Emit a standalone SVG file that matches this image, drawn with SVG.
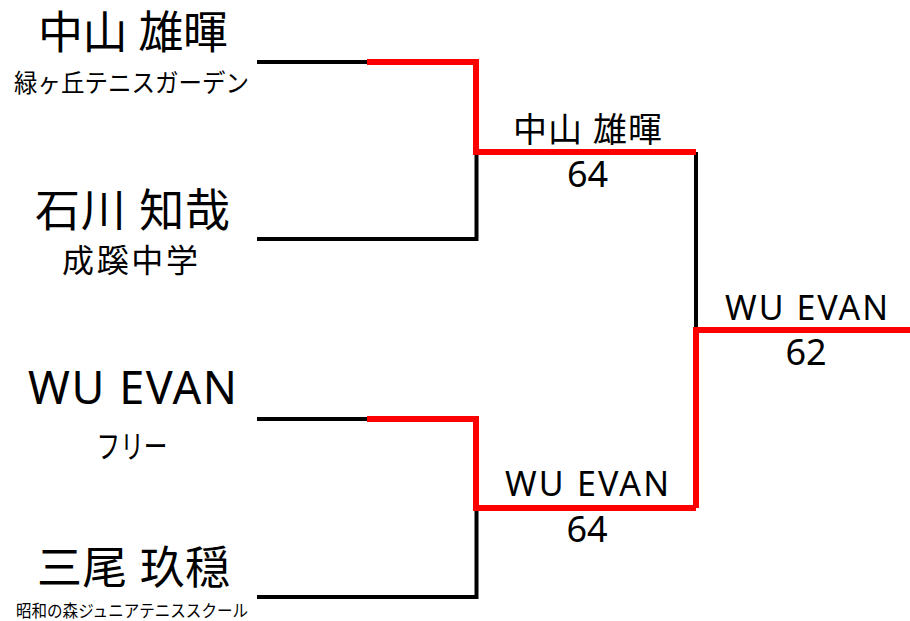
<svg xmlns="http://www.w3.org/2000/svg" width="910" height="621" viewBox="0 0 910 621">
  <style>
    text { font-family: "Noto Sans", "Noto Sans CJK JP", sans-serif; fill: #000; text-anchor: middle; }
    .name { font-size: 45px; }
    .aff { font-size: 25px; }
    .res { font-size: 34px; }
    .score { font-size: 36px; }
    .blk { fill: none; stroke: #000; stroke-width: 4; stroke-linejoin: miter; }
    .red { fill: none; stroke: #ff0000; stroke-width: 6; stroke-linejoin: miter; }
  </style>
  <rect width="910" height="621" fill="#fff"/>
  <g id="connectors">
    <path class="blk" d="M257,62 H370"/>
    <path class="blk" d="M257,239 H476.5 V152"/>
    <path class="blk" d="M696,152 V330"/>
    <path class="blk" d="M257,419 H370"/>
    <path class="blk" d="M257,597 H476.5 V508"/>
    <path class="red" d="M367,62 H476 V152 H696"/>
    <path class="red" d="M367,419 H476 V508 H696"/>
    <path class="red" d="M696,508 V330 H910"/>
  </g>
  <g id="player1">
    <text class="name" x="133" y="49" textLength="190" lengthAdjust="spacing">中山 雄暉</text>
    <text class="aff" x="131.5" y="92" textLength="235" lengthAdjust="spacingAndGlyphs">緑ヶ丘テニスガーデン</text>
  </g>
  <g id="player2">
    <text class="name" x="132.5" y="227" textLength="195" lengthAdjust="spacing">石川 知哉</text>
    <text class="aff" style="font-size:32px" x="130" y="272" textLength="136" lengthAdjust="spacing">成蹊中学</text>
  </g>
  <g id="player3">
    <text class="name" x="132.5" y="404" textLength="209" lengthAdjust="spacing">WU EVAN</text>
    <text class="aff" style="font-size:32px" x="132" y="458" textLength="71" lengthAdjust="spacingAndGlyphs">フリー</text>
  </g>
  <g id="player4">
    <text class="name" x="133.5" y="584" textLength="193" lengthAdjust="spacing">三尾 玖穏</text>
    <text class="aff" style="font-size:17px" x="132" y="617" textLength="232" lengthAdjust="spacingAndGlyphs">昭和の森ジュニアテニススクール</text>
  </g>
  <g id="semi1">
    <text class="res" x="587.5" y="142" textLength="149" lengthAdjust="spacing">中山 雄暉</text>
    <text class="score" x="587.5" y="187">64</text>
  </g>
  <g id="semi2">
    <text class="res" x="587" y="496" textLength="164" lengthAdjust="spacing">WU EVAN</text>
    <text class="score" x="587" y="542">64</text>
  </g>
  <g id="final">
    <text class="res" x="806.5" y="320" textLength="163" lengthAdjust="spacing">WU EVAN</text>
    <text class="score" x="806" y="365">62</text>
  </g>
</svg>
